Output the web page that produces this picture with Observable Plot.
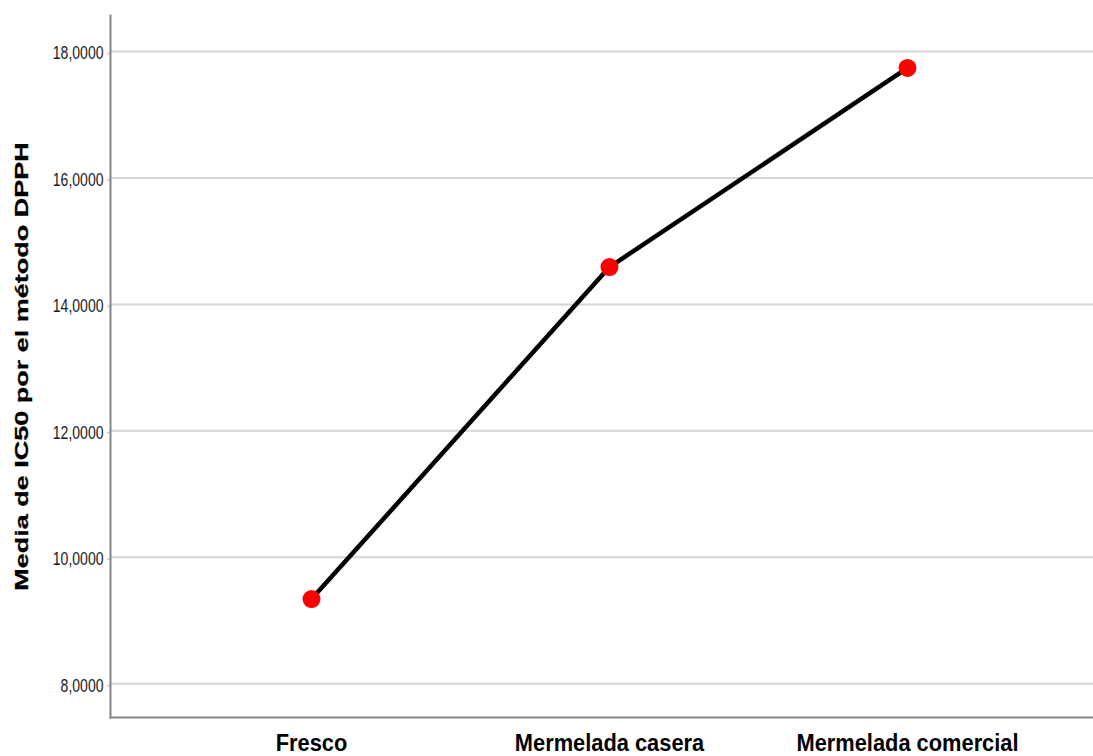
<!DOCTYPE html>
<html><head><meta charset="utf-8">
<script src="https://cdn.jsdelivr.net/npm/d3@7"></script>
<script src="https://cdn.jsdelivr.net/npm/@observablehq/plot@0.6"></script>
<style>body{margin:0;background:#fff}</style>
</head><body><div id="chart"></div>
<script>
const categories = ["Fresco", "Mermelada casera", "Mermelada comercial"];
const means = [9.34, 14.59, 17.74];
const yTicks = [8, 10, 12, 14, 16, 18];
const yLabel = "Media de IC50 por el método DPPH";

const data = categories.map((c, i) => ({c, v: means[i]}));
const fmt = d => d.toFixed(4).replace(".", ",");

const chart = Plot.plot({
  width: 1093, height: 756,
  marginLeft: 110, marginRight: 0, marginTop: 15, marginBottom: 39,
  style: {background: "#fff", fontFamily: "'Liberation Sans', Arial, sans-serif"},
  x: {type: "point", domain: categories, padding: 0.6466, align: 0.52},
  y: {domain: [7.467, 18.569]},
  marks: [
    Plot.gridY(yTicks, {stroke: "#d3d3d3", strokeOpacity: 1, strokeWidth: 2}),
    Plot.axisY(yTicks, {tickSize: 3, stroke: "#d3d3d3", strokeWidth: 2, tickPadding: 4,
      tickFormat: fmt, fontSize: 18, fill: "#1a1a1a", dy: 2,
      label: yLabel, labelAnchor: "center", labelArrow: "none", labelOffset: 96}),
    Plot.axisX({tickSize: 0, tickPadding: 16, fontSize: 24, fontWeight: "bold", fill: "#000", label: null}),
    Plot.frame({anchor: "left", stroke: "#858585", strokeWidth: 2}),
    Plot.frame({anchor: "bottom", stroke: "#858585", strokeWidth: 2}),
    Plot.line(data, {x: "c", y: "v", stroke: "#000", strokeWidth: 4.5}),
    Plot.dot(data, {x: "c", y: "v", r: 9, fill: "#ff0000", stroke: "none"})
  ]
});

function squeeze(sel, sx, sy) {
  chart.querySelectorAll(sel).forEach(t => {
    const tr = t.getAttribute("transform") || "";
    const xa = t.getAttribute("x");
    const ax = xa && !/em$/.test(xa) ? parseFloat(xa) || 0 : 0;
    t.setAttribute("transform", `${tr} translate(${ax},0) scale(${sx},${sy}) translate(${-ax},0)`);
  });
}
squeeze('g[aria-label="y-axis tick label"] text', 0.78, 1);
squeeze('g[aria-label="x-axis tick label"] text', 0.91, 1);
squeeze('g[aria-label="y-axis label"] text', 1, 0.7);
chart.querySelectorAll('g[aria-label="y-axis label"] text').forEach(t => {
  t.setAttribute("font-size", "27"); t.setAttribute("font-weight", "bold"); t.setAttribute("fill", "#000");
  t.setAttribute("stroke", "#000"); t.setAttribute("stroke-width", "0.4");
});
document.getElementById("chart").appendChild(chart);
</script></body></html>
